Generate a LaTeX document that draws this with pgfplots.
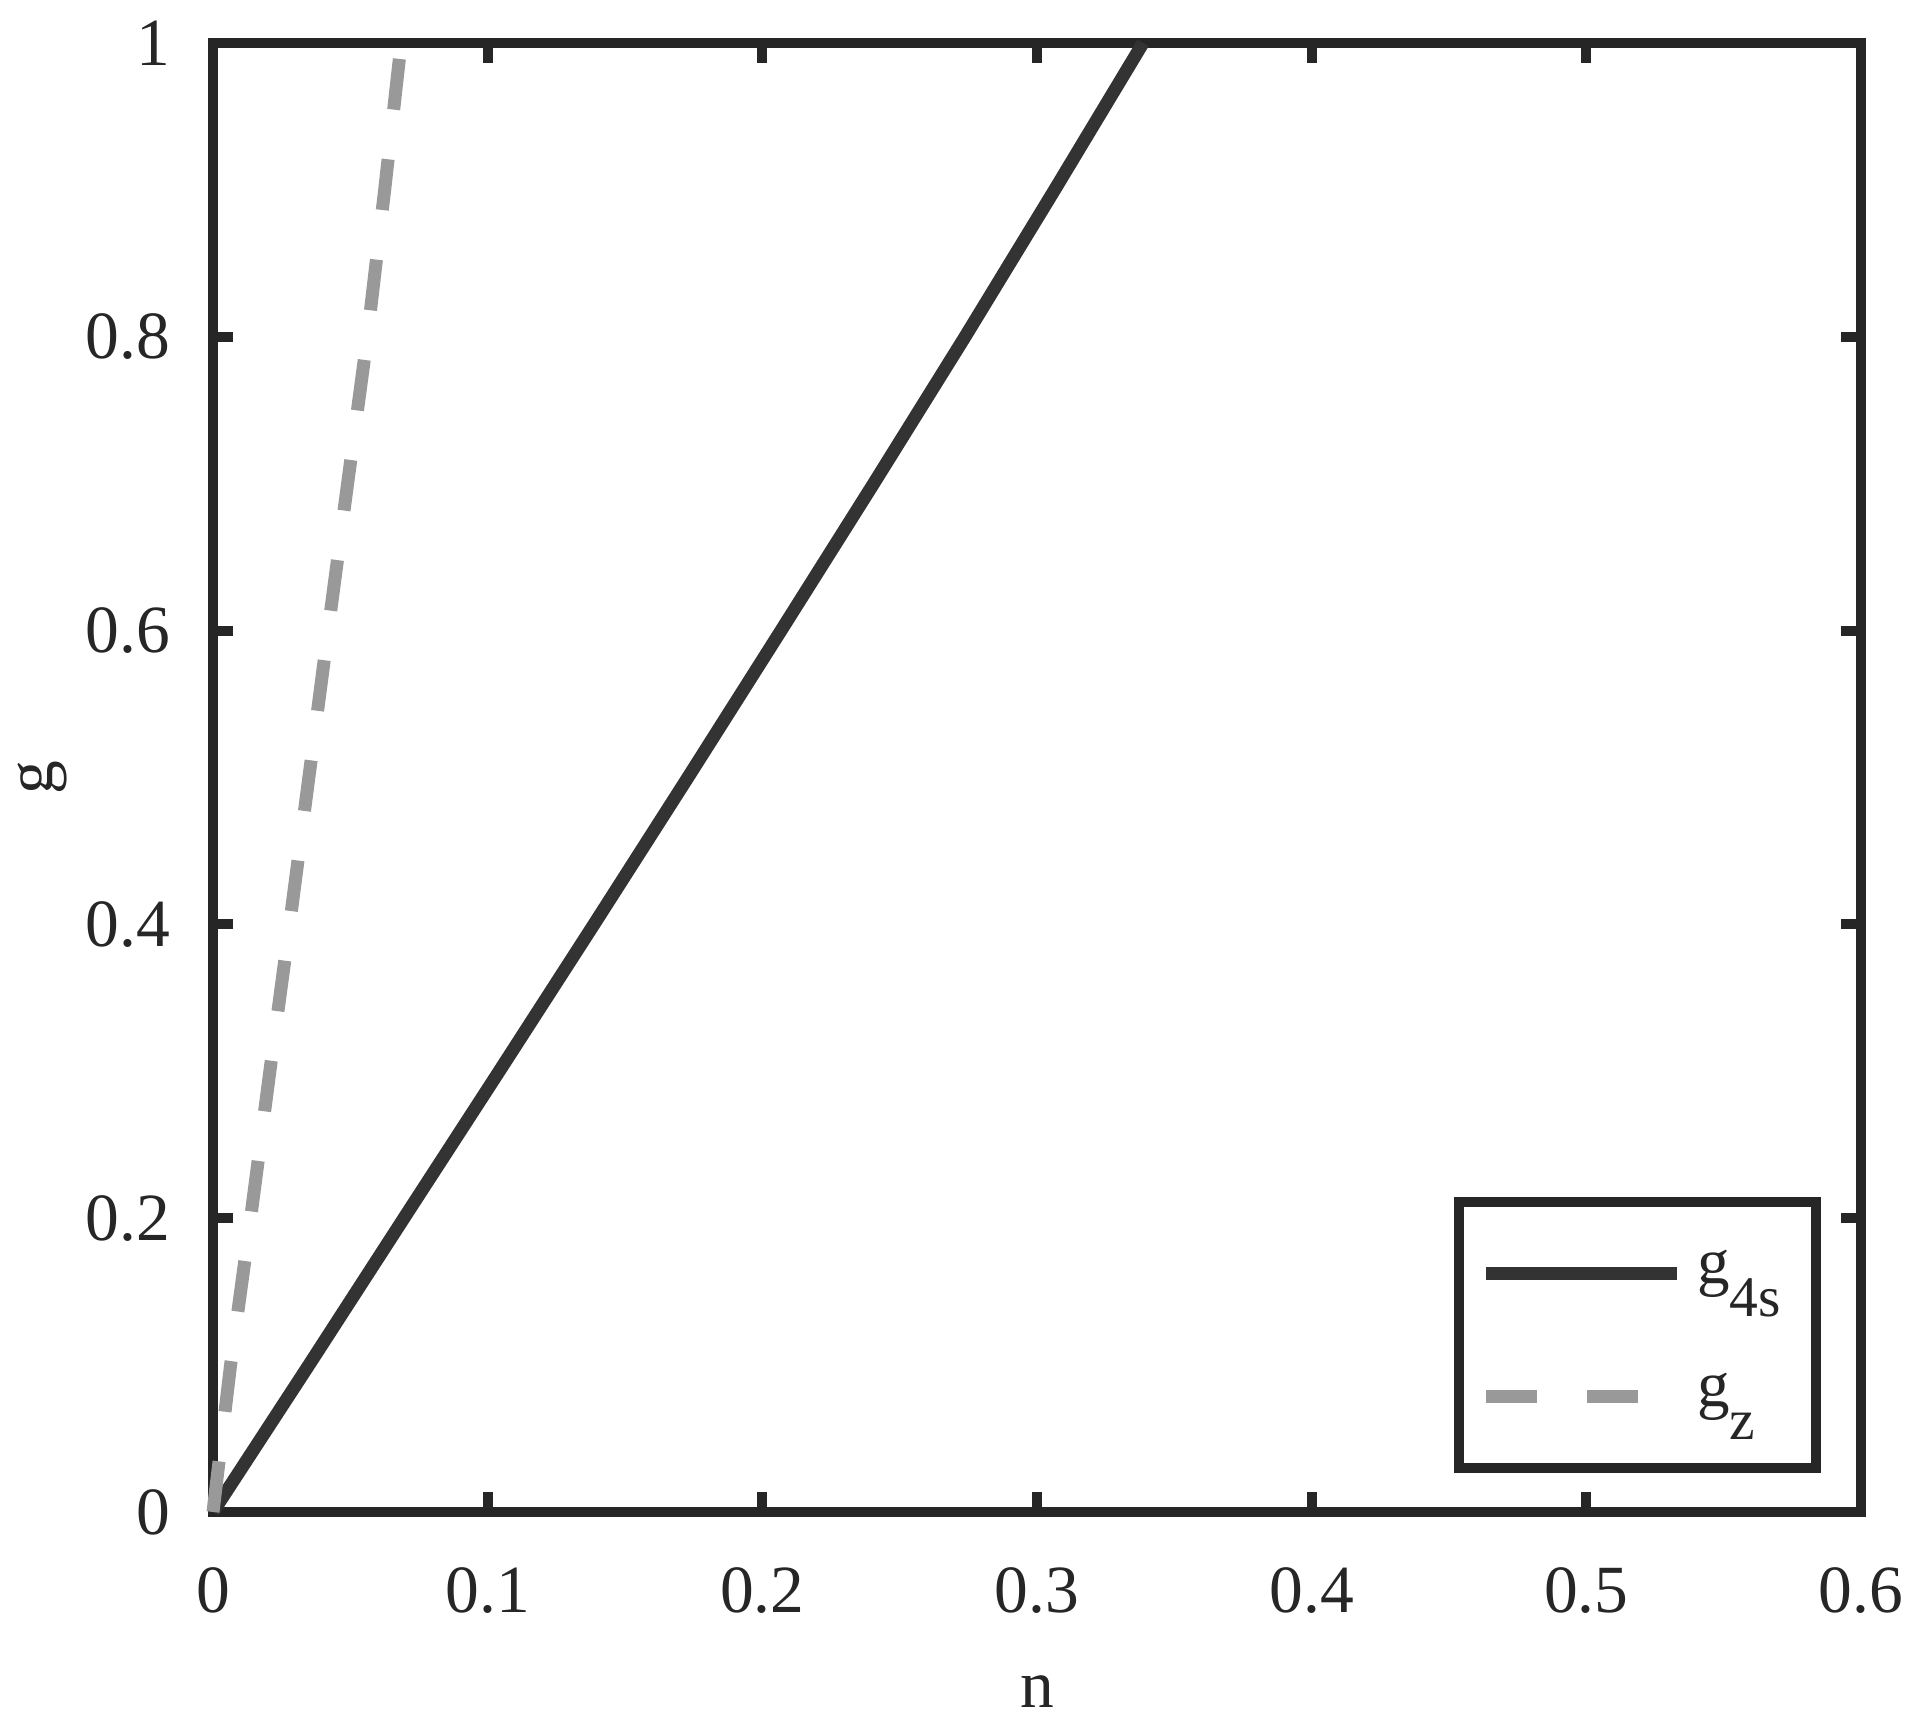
\documentclass[border=0pt]{standalone}
\usepackage{fontspec}
\setmainfont{Liberation Serif}
\usepackage{pgfplots}
\usepackage{pgfplotstable}
\pgfplotsset{compat=1.18}
\definecolor{axc}{HTML}{262626}
\definecolor{solidc}{HTML}{333333}
\definecolor{dashc}{HTML}{999999}
\pgfplotstableread{
n g
0 0
0.0349 0.1
0.0695 0.2
0.1042 0.3
0.1387 0.4
0.1729 0.5
0.2068 0.6
0.2405 0.7
0.2738 0.8
0.3064 0.9
0.3386 1.0
}\gfours
\pgfplotstableread{
n g
0 0
0.0064 0.1
0.0137 0.2
0.0207 0.3
0.0279 0.4
0.0349 0.5
0.0419 0.6
0.0490 0.7
0.0562 0.8
0.0625 0.9
0.0685 1.0
}\gz
\begin{document}
\begin{tikzpicture}
\begin{axis}[
  name=ax,
  scale only axis, width=329.6pt, height=293.8pt,
  xmin=0, xmax=0.6, ymin=0, ymax=1,
  xtick={0,0.1,0.2,0.3,0.4,0.5,0.6},
  xticklabels={0,0.1,0.2,0.3,0.4,0.5,0.6},
  ytick={0,0.2,0.4,0.6,0.8,1},
  yticklabels={0,0.2,0.4,0.6,0.8,1},
  tick align=inside, major tick length=4pt,
  major tick style={line width=2pt, draw=axc},
  axis line style={line width=2pt, draw=axc},
  /pgf/number format/assume math mode=true,
  xticklabel style={anchor=north, inner sep=0pt, yshift=-11pt, font=\fontsize{13.5}{16}\selectfont, text=axc},
  yticklabel style={anchor=east, inner sep=0pt, xshift=-8.4pt, font=\fontsize{13.5}{16}\selectfont, text=axc},
  xlabel={n}, ylabel={g},
  xlabel style={at={(axis description cs:0.5,-0.1334)}, anchor=base, inner sep=0pt, font=\fontsize{13.5}{16}\selectfont, text=axc},
  ylabel style={at={(axis description cs:-0.1032,0.5)}, anchor=center, inner sep=0pt, font=\fontsize{13.5}{16}\selectfont, text=axc},
  clip=false,
  legend image code/.code={\draw[#1] (0pt,2pt) -- (38.2pt,2pt);},
  legend style={at={(rel axis cs:1,0)}, anchor=south east, xshift=-9pt, yshift=8.8pt,
    draw=axc, line width=2pt, fill=white, outer sep=0pt,
    inner xsep=4pt, inner ysep=2pt, column sep=2.8pt, row sep=0pt,
    font=\fontsize{13}{15}\selectfont, text=axc,
    cells={anchor=base west},
    nodes={inner sep=0pt, text height=14.3pt, text depth=10.3pt, anchor=base west}},
]
\addplot[solidc, line width=2.6pt] table[x=n, y=g] {\gfours};
\addlegendentry{g\raisebox{-6.6pt}{\fontsize{11.5}{12}\selectfont 4s}\hspace*{3pt}}
\addplot[dashc, line width=2.6pt, dash pattern=on 10.2pt off 10pt] table[x=n, y=g] {\gz};
\addlegendentry{g\raisebox{-6.6pt}{\fontsize{11.5}{12}\selectfont z}}
\end{axis}
\path ([shift={(-42.6pt,-42.4pt)}]ax.south west) rectangle ([shift={(9.8pt,8.6pt)}]ax.north east);
\end{tikzpicture}
\end{document}
